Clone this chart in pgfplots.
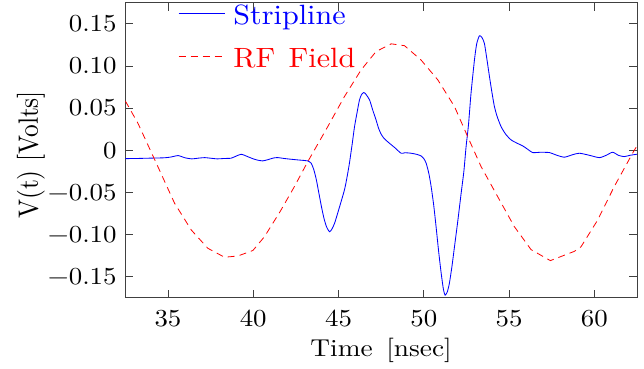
\documentclass[border=0pt]{standalone}
\usepackage{fontspec}
\setmainfont{lmroman10-regular.otf}
\usepackage{pgfplots}
\pgfplotsset{compat=1.18}
\begin{document}
\begin{tikzpicture}
\begin{axis}[
  scale only axis,
  width=511.7bp, height=295bp,
  xmin=32.5, xmax=62.5,
  ymin=-0.175, ymax=0.175,
  axis line style={line width=0.9pt, black!75},
  tick style={line width=0.8pt, black!75},
  tick align=inside,
  major tick length=8bp,
  /pgf/number format/assume math mode=true,
  xtick={35,40,45,50,55,60},
  xticklabels={35,40,45,50,55,60},
  ytick={-0.15,-0.10,-0.05,0,0.05,0.10,0.15},
  yticklabels={−0.15,−0.10,−0.05,0,0.05,0.10,0.15},
  minor tick num=0,
  ticklabel style={font=\fontsize{24.5}{29}\selectfont, inner sep=0pt, xscale=1.1},
  xticklabel shift=12.3bp,
  yticklabel shift=8.5bp,
  xlabel={Time\hspace{0.5em}[nsec]},
  ylabel={V(t) [Volts]},
  xlabel style={font=\fontsize{24.5}{29}\selectfont, inner sep=0pt, at={(axis description cs:0.5,0)}, anchor=center, yshift=-52.8bp, xscale=1.12},
  ylabel style={font=\fontsize{25.5}{30}\selectfont, inner sep=0pt, at={(axis description cs:-0.1847,0.484)}, anchor=center, yscale=1.1},
  legend style={at={(axis description cs:0.1036,1)}, anchor=north west, draw=none, fill=none,
    inner sep=0pt, outer sep=0pt, column sep=7.5bp, row sep=20.7bp,
    nodes={inner sep=0pt, font=\fontsize{28}{33}\selectfont, xscale=1.08, text height=22bp, text depth=0bp}},
  legend cell align=left,
  legend image code/.code={\draw[#1] (0bp,0bp) -- (46.7bp,0bp);},
  clip=true,
]
\addplot[blue, line width=0.85pt, smooth, tension=0.4] coordinates {
(32.5,-0.0100) (33.2,-0.0098) (34.0,-0.0094) (34.8,-0.0090) (35.2,-0.0080) (35.6,-0.0064)
(36.0,-0.0090) (36.4,-0.0103) (36.8,-0.0094) (37.15,-0.0088) (37.5,-0.0095) (37.9,-0.0103)
(38.3,-0.0098) (38.7,-0.0095) (39.0,-0.0070) (39.3,-0.0048) (39.6,-0.0070) (39.9,-0.0095)
(40.2,-0.0115) (40.55,-0.0127) (40.9,-0.0110) (41.2,-0.0092) (41.45,-0.0088) (41.8,-0.0098)
(42.2,-0.0107) (42.6,-0.0115) (43.0,-0.0122) (43.2,-0.0127) (43.4,-0.0155) (43.55,-0.0230)
(43.7,-0.0350) (43.85,-0.0510) (44.0,-0.0670) (44.15,-0.0810) (44.3,-0.0910) (44.47,-0.0967)
(44.6,-0.0940) (44.77,-0.0867) (45.05,-0.0680) (45.35,-0.0470) (45.5,-0.0320) (45.64,-0.0155)
(45.8,0.0070) (45.94,0.0280) (46.1,0.0460) (46.23,0.0597) (46.35,0.0660) (46.48,0.0684)
(46.6,0.0665) (46.82,0.0597) (47.0,0.0480) (47.2,0.0360) (47.35,0.0260) (47.5,0.0190)
(47.65,0.0145) (47.8,0.0115) (48.0,0.0080) (48.3,0.0030) (48.67,-0.0036) (48.9,-0.0030) (49.26,-0.0036)
(49.6,-0.0050) (49.84,-0.0068) (50.0,-0.0100) (50.14,-0.0155) (50.3,-0.0280) (50.43,-0.0430)
(50.58,-0.0650) (50.72,-0.0907) (50.87,-0.1200) (51.02,-0.1460) (51.15,-0.1650) (51.25,-0.1720)
(51.38,-0.1680) (51.5,-0.1580) (51.65,-0.1380) (51.8,-0.1145) (52.0,-0.0830) (52.19,-0.0510)
(52.35,-0.0250) (52.48,0.0043) (52.62,0.0300) (52.77,0.0677) (52.97,0.1070) (53.1,0.1260)
(53.26,0.1357) (53.4,0.1340) (53.55,0.1270) (53.7,0.1080) (53.85,0.0874) (54.0,0.0680)
(54.14,0.0518) (54.3,0.0400) (54.53,0.0280) (54.8,0.0190) (55.12,0.0122) (55.5,0.0080)
(55.8,0.0051) (56.1,0.0010) (56.38,-0.0028) (56.8,-0.0025) (57.36,-0.0028) (57.8,-0.0060)
(58.24,-0.0083) (58.7,-0.0055) (59.12,-0.0036) (59.7,-0.0060) (60.29,-0.0088) (60.7,-0.0060)
(61.07,-0.0024) (61.4,-0.0060) (61.75,-0.0076) (62.1,-0.0060) (62.5,-0.0048)
};
\addlegendentry{\textcolor{blue}{Stripline}}
\addplot[red, line width=0.8pt, dash pattern=on 7bp off 5bp] coordinates {
(32.5,0.0585) (33.24,0.032) (34.41,-0.0195) (35.39,-0.063) (36.37,-0.0947) (37.34,-0.1164)
(38.32,-0.127) (39.1,-0.1255) (39.98,-0.119) (40.66,-0.1026) (41.6,-0.072) (42.42,-0.043)
(43.2,-0.0135) (44.37,0.028) (45.35,0.0637) (46.33,0.0954) (47.2,0.117) (48.09,0.1262)
(48.87,0.124) (49.84,0.107) (50.82,0.0835) (51.8,0.0518) (52.57,0.0162) (53.36,-0.0195)
(54.33,-0.055) (55.31,-0.0907) (56.29,-0.118) (57.42,-0.131) (58.83,-0.120) (59.22,-0.1145)
(60.19,-0.083) (61.17,-0.043) (62.34,0.0) (62.5,0.005)
};
\addlegendentry{\textcolor{red}{RF\hspace{0.45em}Field}}
\end{axis}
\pgfresetboundingbox
\path (current axis.south west) ++(-125.3bp,-71.3bp) coordinate (bbA);
\path (current axis.north east) ++(7bp,2.7bp) coordinate (bbB);
\useasboundingbox (bbA) rectangle (bbB);
\end{tikzpicture}
\end{document}
